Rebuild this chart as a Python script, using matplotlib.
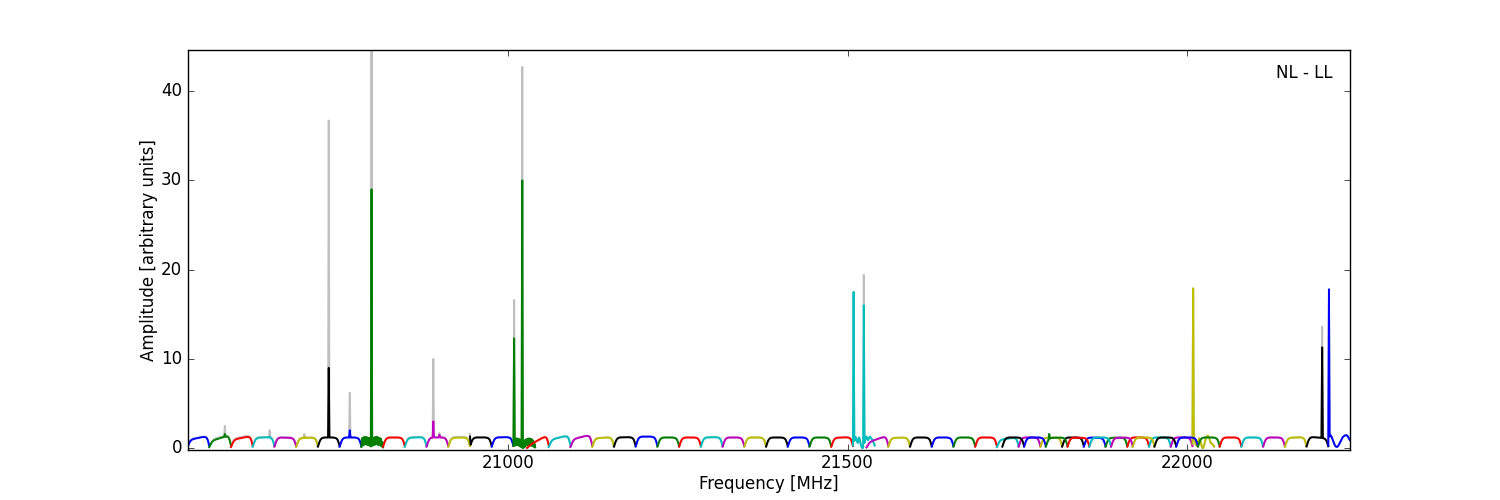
import numpy as np
import matplotlib
matplotlib.use("Agg")
import matplotlib.pyplot as plt

# ---------------- data ----------------
tuning_starts = [20528, 21028, 21528, 21728]   # MHz, 4 tunings
subbands_per_tuning = 16
subband_width = 32                              # MHz, 33 channels (1 MHz)
color_cycle = ['b', 'g', 'r', 'c', 'm', 'y', 'k']

# bandpass template (relative), 33 channels across one subband
template = [0.15, 0.32, 0.52, 0.68, 0.80, 0.88, 0.93, 0.96, 0.98, 0.99,
            1.00, 1.00, 1.00, 1.00, 1.00, 1.00, 1.00, 1.00, 1.00, 1.00,
            1.00, 1.00, 1.00, 0.99, 0.98, 0.97, 0.95, 0.92, 0.87, 0.78,
            0.63, 0.43, 0.20]

# plateau level at start / end of each subband (64 subbands)
level_start = [0.90, 0.75, 0.90, 1.15, 1.20, 1.10, 1.20, 1.20, 1.00, 1.20, 1.15, 1.20, 1.15, 1.20, 1.20, 1.00,
               0.20, 0.90, 0.95, 1.10, 1.20, 1.30, 1.20, 1.20, 1.20, 1.20, 1.20, 1.20, 1.20, 1.20, 1.15, 1.00,
               0.60, 1.15, 1.20, 1.20, 1.20, 1.20, 0.90, 1.20, 1.15, 1.20, 1.20, 1.15, 1.20, 1.20, 1.20, 1.00,
               1.20, 1.20, 1.15, 1.20, 1.20, 1.15, 1.20, 1.20, 1.20, 1.20, 1.20, 1.20, 1.20, 1.15, 1.30, 1.00]
level_end = [1.40, 1.50, 1.40, 1.25, 1.15, 1.20, 1.20, 1.20, 1.00, 1.20, 1.25, 1.20, 1.20, 1.20, 1.25, 1.00,
             1.55, 1.50, 1.55, 1.25, 1.25, 1.30, 1.20, 1.20, 1.25, 1.20, 1.20, 1.20, 1.20, 1.20, 1.25, 1.00,
             1.45, 1.20, 1.20, 1.20, 1.20, 1.20, 1.25, 1.20, 1.20, 1.20, 1.15, 1.20, 1.20, 1.20, 1.20, 1.00,
             1.20, 1.20, 1.20, 1.15, 1.20, 1.20, 1.20, 1.20, 1.20, 1.20, 1.20, 1.20, 1.20, 1.25, 1.10, 1.00]
# extra height of the unflagged (grey) data above the flagged data
grey_offset = [0.05, 0.12, 0.12, 0.05, 0.05, 0.05, 0.0, 0.0, 0.0, 0.0, 0.05, 0.05, 0.10, 0.05, 0.0, 0.0] + [0.0] * 48

# subbands with irregular shapes (33 channel values each)
custom_index = [8, 15, 31, 47, 63]
custom_shapes = [
    [0.15, 1.10, 0.30, 1.20, 0.40, 1.25, 0.45, 1.25, 0.40, 1.20, 0.35, 1.15, 0.30, 1.10, 0.20, 1.10, 0.25,
     1.15, 0.35, 1.20, 0.40, 1.25, 0.45, 1.25, 0.40, 1.20, 0.35, 1.15, 0.30, 1.05, 0.20, 0.70, 0.10],
    [0.25, 1.00, 0.30, 1.05, 0.35, 1.10, 0.35, 1.05, 0.30, 1.00, 0.20, 0.85, 0.10, 0.60, 0.02, 0.60, 0.10,
     0.90, 0.25, 1.00, 0.35, 1.05, 0.40, 1.10, 0.35, 1.05, 0.30, 1.00, 0.25, 0.85, 0.15, 0.50, 0.10],
    [0.30, 0.50, 0.80, 1.00, 1.25, 1.10, 0.80, 0.60, 0.90, 1.20, 1.00, 0.60, 0.30, 0.10, 0.00, 0.10, 0.30,
     0.60, 0.90, 1.20, 1.30, 1.10, 0.90, 1.00, 1.20, 1.30, 1.20, 1.10, 1.00, 0.90, 0.70, 0.50, 0.30],
    [0.50, 0.80, 1.20, 0.90, 0.60, 0.40, 0.30, 0.40, 0.70, 0.90, 1.10, 1.00, 0.70, 0.40, 0.15, 0.00, 0.05,
     0.30, 0.60, 0.90, 1.10, 1.30, 1.40, 1.40, 1.30, 1.10, 0.80, 0.60, 0.50, 0.50, 0.40, 0.30, 0.20],
    [0.30, 0.80, 1.30, 1.45, 1.40, 1.25, 1.05, 0.85, 0.65, 0.45, 0.30, 0.20, 0.15, 0.15, 0.20, 0.30, 0.45,
     0.60, 0.75, 0.90, 1.05, 1.20, 1.30, 1.35, 1.40, 1.45, 1.45, 1.45, 1.40, 1.30, 1.15, 1.00, 0.90],
]

# narrow RFI spikes: subband index, frequency [MHz], grey (raw) and coloured (flagged) amplitude
spike_sub   = [1,     3,     5,     6,     7,     8,     11,    11,    13,    15,    15,    31,    31,    50,    47,    62,    63]
spike_freq  = [20583, 20649, 20700, 20736, 20767, 20799, 20890, 20899, 20939, 21009, 21021, 21509, 21524, 21797, 22009, 22199, 22209]
spike_grey  = [2.5,   2.0,   1.6,   36.7,  6.2,   44.6,  10.0,  1.7,   1.6,   16.6,  42.7,  17.5,  19.4,  1.6,   17.9,  13.6,  17.6]
spike_color = [1.6,   1.3,   1.3,   9.0,   2.0,   29.0,  3.0,   1.5,   1.3,   12.3,  30.0,  17.5,  16.0,  1.6,   17.9,  11.3,  17.8]

label_text = "NL - LL"
x_label = "Frequency [MHz]"
y_label = "Amplitude [arbitrary units]"

# ---------------- build subbands ----------------
nchan = len(template)
subbands = []
for t, t0 in enumerate(tuning_starts):
    for s in range(subbands_per_tuning):
        idx = t * subbands_per_tuning + s
        start = t0 + s * subband_width
        freq = start + np.arange(nchan) * (subband_width / (nchan - 1))
        if idx in custom_index:
            vals = np.array(custom_shapes[custom_index.index(idx)], dtype=float)
        else:
            vals = np.array(template) * np.linspace(level_start[idx], level_end[idx], nchan)
        grey = vals + grey_offset[idx] * np.array(template)
        subbands.append([idx, start, freq, vals, grey])

for si, sf, sg, sc in zip(spike_sub, spike_freq, spike_grey, spike_color):
    idx, start, freq, vals, grey = subbands[si]
    ch = int(round((sf - start) / (subband_width / (nchan - 1))))
    ch = min(max(ch, 0), nchan - 1)
    vals[ch] = sc
    grey[ch] = sg

# ---------------- plot ----------------
plt.style.use('classic')
plt.rcParams['font.family'] = ['DejaVu Sans']
plt.rcParams['path.simplify'] = False
fig = plt.figure(figsize=(15, 5), dpi=100, facecolor='white')
ax = fig.add_subplot(111)
fig.subplots_adjust(left=0.125, right=0.9, bottom=0.1, top=0.9)

for idx, start, freq, vals, grey in subbands:
    ax.plot(freq, grey, color='0.75', lw=1.4)
for idx, start, freq, vals, grey in subbands:
    ax.plot(freq, vals, color=color_cycle[idx % len(color_cycle)], lw=1.4)

ax.set_xlim(tuning_starts[0], tuning_starts[-1] + subbands_per_tuning * subband_width)
ax.set_ylim(-0.2, 44.6)
ax.set_xticks([21000, 21500, 22000])
ax.set_yticks([0, 10, 20, 30, 40])
ax.ticklabel_format(useOffset=False, axis='x')
ax.set_xlabel(x_label, fontsize=12, labelpad=2)
ax.set_ylabel(y_label, fontsize=12, labelpad=2)
ax.tick_params(labelsize=12)
ax.tick_params(axis='x', pad=3)
ax.text(0.985, 0.965, label_text, transform=ax.transAxes, ha='right', va='top', fontsize=12)

fig.savefig("out.png", dpi=100, facecolor='white')
